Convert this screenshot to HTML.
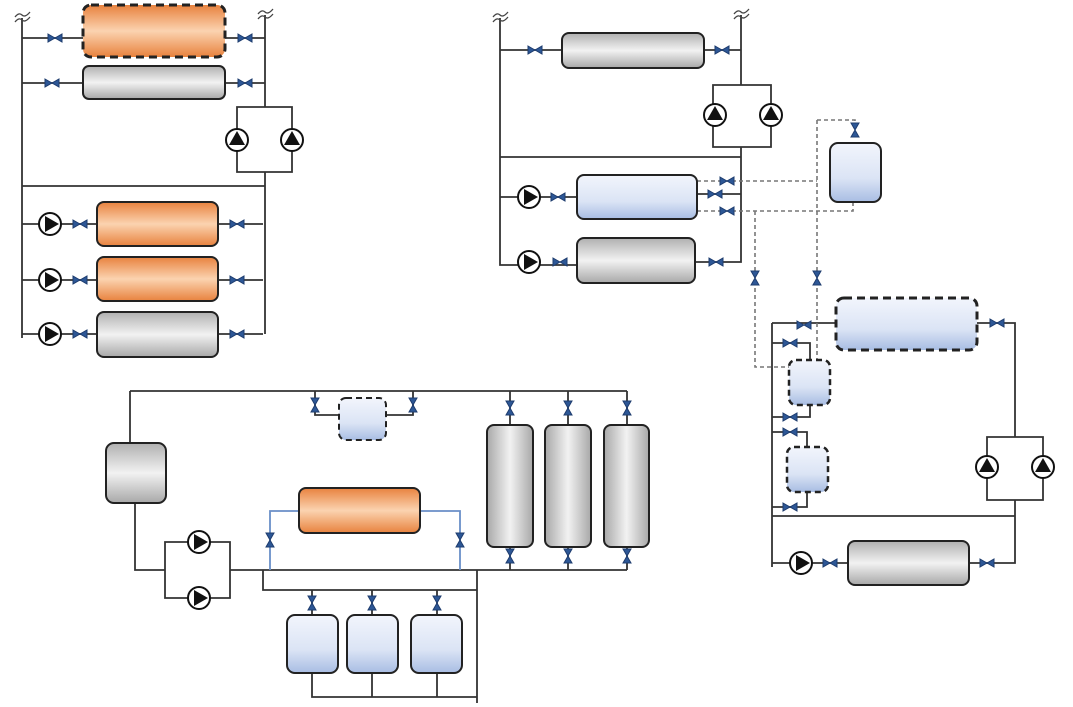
<!DOCTYPE html>
<html><head><style>body{margin:0;background:#fff}svg{display:block}</style></head><body>
<svg width="1073" height="707" viewBox="0 0 1073 707" xmlns="http://www.w3.org/2000/svg">
<defs>
<linearGradient id="or" x1="0" y1="0" x2="0" y2="1"><stop offset="0" stop-color="#e8823e"/><stop offset=".5" stop-color="#fbd3b0"/><stop offset="1" stop-color="#e8823e"/></linearGradient>
<linearGradient id="gr" x1="0" y1="0" x2="0" y2="1"><stop offset="0" stop-color="#b0b0b0"/><stop offset=".5" stop-color="#f2f2f2"/><stop offset="1" stop-color="#a8a8a8"/></linearGradient>
<linearGradient id="grv" x1="0" y1="0" x2="1" y2="0"><stop offset="0" stop-color="#a8a8a8"/><stop offset=".5" stop-color="#f2f2f2"/><stop offset="1" stop-color="#a8a8a8"/></linearGradient>
<linearGradient id="bl" x1="0" y1="0" x2="0" y2="1"><stop offset="0" stop-color="#f2f5fc"/><stop offset=".6" stop-color="#dbe4f5"/><stop offset="1" stop-color="#a8bde3"/></linearGradient>
<g id="v"><path d="M-7,-4 L7,4 L7,-4 L-7,4 Z" fill="#2d5796" stroke="#1e3c6e" stroke-width="1"/></g>
<g id="vv"><path d="M-4,-7 L4,7 L-4,7 L4,-7 Z" fill="#2d5796" stroke="#1e3c6e" stroke-width="1"/></g>
<g id="pu"><circle r="11" fill="#fff" stroke="#111" stroke-width="2"/><path d="M-8,5 L0,-9 L8,5 Z" fill="#111"/></g>
<g id="pr"><circle r="11" fill="#fff" stroke="#111" stroke-width="2"/><path d="M-5,-8 L9,0 L-5,8 Z" fill="#111"/></g>
</defs>
<g fill="none" stroke="#333" stroke-width="1.8">
<path d="M22,18 V338 M22,186 H265 M265,15 V107 M237,107 H292 V172 H237 Z M265,172 V186 V334"/>
<path d="M22,38 H83 M225,38 H265 M22,83 H83 M225,83 H265"/>
<path d="M22,224 H97 M218,224 H263 M22,280 H97 M218,280 H263 M22,334 H97 M218,334 H263"/>
<path d="M500,18 V265 H577 M741,15 V85 M713,85 H771 V147 H713 Z M741,147 V262 H695 M500,157 H741 M500,197 H577 M697,194 H741 M500,50 H562 M704,50 H741"/>
<path d="M772,323 V567 M772,323 H836 M977,323 H1015 V437 M987,437 H1043 V500 H987 Z M1015,500 V563 H969 M772,516 H1015 M772,563 H848"/>
<path d="M772,343 H810 V360 M810,405 V417 H772 M772,432 H807 V447 M807,492 V507 H772"/>
<path d="M130,391 H627 M130,391 V443 M135,503 V570 H165 M165,542 H230 V598 H165 Z M230,570 H627"/>
<path d="M315,391 V415 H339 M386,415 H413 V391"/>
<path d="M270,570 V511 H299 M420,511 H460 V570" stroke="#6a8fc8"/>
<path d="M510,391 V425 M568,391 V425 M627,391 V425 M510,547 V570 M568,547 V570 M627,547 V570"/>
<path d="M263,570 V590 H477 M477,570 V703 M312,590 V615 M372,590 V615 M437,590 V615 M312,673 V697 H477 M372,673 V697 M437,673 V697"/>
</g>
<g fill="none" stroke="#777" stroke-width="1.6" stroke-dasharray="4,3">
<path d="M697,181 H817 M817,120 V365 M817,120 H855 V130"/>
<path d="M697,211 H853 V202 M755,211 V367 H800"/>
</g>
<g fill="none" stroke="#444" stroke-width="1.3">
<path d="M15,17 q4,-5 7,-2 t8,-3 M15,22 q4,-5 7,-2 t8,-3"/>
<path d="M258,14 q4,-5 7,-2 t8,-3 M258,19 q4,-5 7,-2 t8,-3"/>
<path d="M493,17 q4,-5 7,-2 t8,-3 M493,22 q4,-5 7,-2 t8,-3"/>
<path d="M734,14 q4,-5 7,-2 t8,-3 M734,19 q4,-5 7,-2 t8,-3"/>
</g>
<g stroke="#222" stroke-width="2">
<rect x="83" y="5" width="142" height="52" rx="8" fill="url(#or)" stroke-dasharray="8,5" stroke-width="3"/>
<rect x="83" y="66" width="142" height="33" rx="6" fill="url(#gr)"/>
<rect x="97" y="202" width="121" height="44" rx="7" fill="url(#or)"/>
<rect x="97" y="257" width="121" height="44" rx="7" fill="url(#or)"/>
<rect x="97" y="312" width="121" height="45" rx="7" fill="url(#gr)"/>
<rect x="562" y="33" width="142" height="35" rx="7" fill="url(#gr)"/>
<rect x="577" y="175" width="120" height="44" rx="7" fill="url(#bl)"/>
<rect x="577" y="238" width="118" height="45" rx="7" fill="url(#gr)"/>
<rect x="830" y="143" width="51" height="59" rx="8" fill="url(#bl)"/>
<rect x="836" y="298" width="141" height="52" rx="8" fill="url(#bl)" stroke-dasharray="8,5" stroke-width="3"/>
<rect x="789" y="360" width="41" height="45" rx="7" fill="url(#bl)" stroke-dasharray="6,4" stroke-width="2.5"/>
<rect x="787" y="447" width="41" height="45" rx="7" fill="url(#bl)" stroke-dasharray="6,4" stroke-width="2.5"/>
<rect x="848" y="541" width="121" height="44" rx="7" fill="url(#gr)"/>
<rect x="106" y="443" width="60" height="60" rx="8" fill="url(#gr)"/>
<rect x="339" y="398" width="47" height="42" rx="7" fill="url(#bl)" stroke-dasharray="6,4"/>
<rect x="299" y="488" width="121" height="45" rx="7" fill="url(#or)"/>
<rect x="487" y="425" width="46" height="122" rx="7" fill="url(#grv)"/>
<rect x="545" y="425" width="46" height="122" rx="7" fill="url(#grv)"/>
<rect x="604" y="425" width="45" height="122" rx="7" fill="url(#grv)"/>
<rect x="287" y="615" width="51" height="58" rx="8" fill="url(#bl)"/>
<rect x="347" y="615" width="51" height="58" rx="8" fill="url(#bl)"/>
<rect x="411" y="615" width="51" height="58" rx="8" fill="url(#bl)"/>
</g>
<use href="#pu" x="237" y="140"/><use href="#pu" x="292" y="140"/>
<use href="#pr" x="50" y="224"/><use href="#pr" x="50" y="280"/><use href="#pr" x="50" y="334"/>
<use href="#pu" x="715" y="115"/><use href="#pu" x="771" y="115"/>
<use href="#pr" x="529" y="197"/><use href="#pr" x="529" y="262"/>
<use href="#pu" x="987" y="467"/><use href="#pu" x="1043" y="467"/>
<use href="#pr" x="801" y="563"/>
<use href="#pr" x="199" y="542"/><use href="#pr" x="199" y="598"/>
<use href="#v" x="55" y="38"/><use href="#v" x="245" y="38"/><use href="#v" x="52" y="83"/><use href="#v" x="245" y="83"/>
<use href="#v" x="80" y="224"/><use href="#v" x="237" y="224"/><use href="#v" x="80" y="280"/><use href="#v" x="237" y="280"/><use href="#v" x="80" y="334"/><use href="#v" x="237" y="334"/>
<use href="#v" x="535" y="50"/><use href="#v" x="722" y="50"/>
<use href="#v" x="558" y="197"/><use href="#v" x="560" y="262"/><use href="#v" x="716" y="262"/>
<use href="#v" x="727" y="181"/><use href="#v" x="715" y="194"/><use href="#v" x="727" y="211"/>
<use href="#vv" x="855" y="130"/><use href="#vv" x="755" y="278"/><use href="#vv" x="817" y="278"/>
<use href="#v" x="804" y="325"/><use href="#v" x="997" y="323"/>
<use href="#v" x="790" y="343"/><use href="#v" x="790" y="417"/><use href="#v" x="790" y="432"/><use href="#v" x="790" y="507"/>
<use href="#v" x="830" y="563"/><use href="#v" x="987" y="563"/>
<use href="#vv" x="315" y="405"/><use href="#vv" x="413" y="405"/>
<use href="#vv" x="270" y="540"/><use href="#vv" x="460" y="540"/>
<use href="#vv" x="510" y="408"/><use href="#vv" x="568" y="408"/><use href="#vv" x="627" y="408"/>
<use href="#vv" x="510" y="556"/><use href="#vv" x="568" y="556"/><use href="#vv" x="627" y="556"/>
<use href="#vv" x="312" y="603"/><use href="#vv" x="372" y="603"/><use href="#vv" x="437" y="603"/>
</svg>
</body></html>
